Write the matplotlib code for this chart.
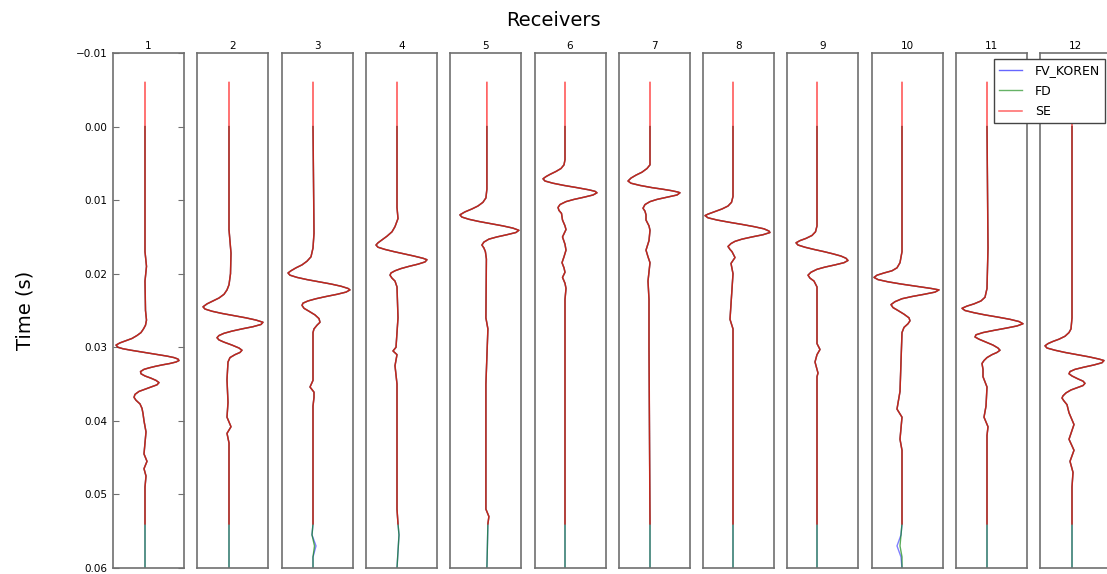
import matplotlib
matplotlib.use('Agg')
import matplotlib.pyplot as plt
import numpy as np

# trace samples: [time (s), amplitude (arbitrary units)]
r01 = np.array([
    [-0.006, 0], [0.0, 0], [0.017, 0], [0.019, 1.5], [0.021, 0], [0.025, 0.5], [0.0263, 1.5], [0.027, 0.5],
    [0.0275, -1.5], [0.028, -4], [0.0284, -8], [0.0288, -13], [0.0291, -19], [0.0294, -25], [0.0297, -29],
    [0.030, -27], [0.0302, -22], [0.0304, -14], [0.0306, -5], [0.0308, 4], [0.031, 13], [0.0312, 22],
    [0.0314, 29], [0.0316, 33], [0.0318, 34], [0.032, 31], [0.0322, 25], [0.0324, 17], [0.0326, 10],
    [0.0328, 4], [0.033, -1], [0.0333, -4.5], [0.0336, -4], [0.0339, 0], [0.0342, 6], [0.0345, 11],
    [0.0348, 14], [0.0351, 12], [0.0354, 6], [0.0357, 0], [0.036, -6], [0.0364, -10], [0.0368, -11],
    [0.0372, -9], [0.0377, -5], [0.0383, -3], [0.039, -2], [0.040, -1], [0.0415, 1], [0.043, 0],
    [0.0445, -1], [0.0455, 2], [0.0465, -1], [0.0475, 1], [0.049, 0], [0.054, 0], [0.06, 0]])

r02 = np.array([
    [-0.006, 0], [0.0, 0], [0.014, 0], [0.0172, 2], [0.020, 1.5], [0.0215, 0], [0.0222, -2], [0.0228, -5],
    [0.0233, -10], [0.0237, -16], [0.0241, -22], [0.0245, -26], [0.0248, -24], [0.0251, -17], [0.0254, -7],
    [0.0257, 5], [0.026, 17], [0.0263, 27], [0.0266, 34], [0.0269, 32], [0.0272, 24], [0.0275, 13],
    [0.0278, 3], [0.0281, -5], [0.0284, -10], [0.0287, -12], [0.029, -10], [0.0293, -5], [0.0297, 3],
    [0.0301, 10], [0.0304, 13], [0.0307, 11], [0.031, 6], [0.0314, 1], [0.032, -1], [0.0344, -2],
    [0.0375, -1], [0.0395, -2], [0.0408, 2], [0.0417, -2], [0.043, 0], [0.054, 0], [0.06, 0]])

r03 = np.array([
    [-0.006, 0], [0.0, 0], [0.0145, 1], [0.0165, 0], [0.0177, -2], [0.0183, -6], [0.0188, -11],
    [0.0192, -17], [0.0196, -22], [0.0199, -25], [0.0202, -23], [0.0205, -16], [0.0208, -6], [0.0211, 6],
    [0.0214, 18], [0.0217, 28], [0.022, 35], [0.0222, 37], [0.0225, 33], [0.0228, 24], [0.0231, 13],
    [0.0234, 3], [0.0237, -5], [0.024, -10], [0.0243, -11], [0.0247, -9], [0.0251, -4], [0.0256, 2],
    [0.0261, 6], [0.0266, 7], [0.027, 4], [0.0275, 1], [0.028, 0], [0.0345, 0], [0.0354, -3],
    [0.0361, 1], [0.0368, 1], [0.038, 0], [0.054, 0], [0.0555, -1], [0.057, 1.5], [0.0585, 0], [0.06, 0]])

r04 = np.array([
    [-0.006, 0], [0.0, 0], [0.011, 0], [0.0125, 1], [0.0136, -2], [0.0143, -5], [0.0149, -10], [0.0154, -15],
    [0.0158, -19], [0.0161, -21], [0.0164, -19], [0.0167, -12], [0.017, -3], [0.0173, 7], [0.0176, 17],
    [0.0179, 26], [0.0181, 30], [0.0184, 28], [0.0187, 21], [0.019, 12], [0.0193, 4], [0.0196, -2],
    [0.0199, -6], [0.0202, -7], [0.0206, -5], [0.021, -2], [0.0218, 0], [0.026, 1], [0.030, -1],
    [0.0305, -4], [0.031, 0], [0.0325, -2], [0.035, 0], [0.052, 0], [0.054, 1], [0.0555, 2], [0.06, 0]])

r05 = np.array([
    [-0.006, 0], [0.0, 0], [0.0085, 0], [0.0097, -1], [0.0103, -4], [0.0108, -9], [0.0112, -15],
    [0.0116, -22], [0.012, -27], [0.0123, -25], [0.0126, -18], [0.0129, -8], [0.0132, 4], [0.0135, 16],
    [0.0138, 26], [0.0141, 32], [0.0144, 29], [0.0147, 20], [0.015, 10], [0.0153, 2], [0.0157, -3],
    [0.0161, -5], [0.0165, -3], [0.017, -1.5], [0.018, -0.5], [0.026, -1], [0.0275, 1], [0.035, -1],
    [0.052, -1], [0.053, 2], [0.054, 1], [0.06, 0]])

r06 = np.array([
    [-0.006, 0], [0.0, 0], [0.0045, 0], [0.0052, -1], [0.0057, -4], [0.0061, -9], [0.0065, -15],
    [0.0068, -19], [0.0071, -22], [0.0074, -20], [0.0077, -12], [0.008, -1], [0.0083, 12], [0.0086, 24],
    [0.0088, 30], [0.009, 32], [0.0093, 28], [0.0096, 19], [0.0099, 9], [0.0102, 1], [0.0106, -5],
    [0.011, -7], [0.0114, -6], [0.0118, -3.5], [0.0127, -2.5], [0.0135, 0], [0.014, 1], [0.015, -2.5],
    [0.016, 0], [0.0168, 1], [0.0177, -1], [0.0185, -3], [0.0192, -1], [0.0198, 0], [0.0205, -2.5],
    [0.0213, 0], [0.022, 1], [0.0235, 0], [0.054, 0], [0.06, 0]])

r07 = np.array([
    [-0.006, 0], [0.0, 0], [0.0045, 0], [0.0052, 0], [0.0057, -3], [0.0062, -8], [0.0066, -14],
    [0.007, -19], [0.0074, -22], [0.0077, -19], [0.008, -10], [0.0083, 2], [0.0085, 12], [0.0087, 21],
    [0.0089, 28], [0.009, 30], [0.0093, 27], [0.0096, 17], [0.0099, 7], [0.0102, 0], [0.0106, -5],
    [0.0111, -7], [0.0115, -5], [0.012, -4], [0.0127, -4], [0.0135, -1], [0.0141, 0], [0.0155, -1],
    [0.0168, -4], [0.0177, -2], [0.0185, 0], [0.021, -2], [0.0235, -1], [0.030, -1], [0.054, 0], [0.06, 0]])

r08 = np.array([
    [-0.006, 0], [0.0, 0], [0.0095, 0], [0.0103, -1.5], [0.0108, -5], [0.0112, -11], [0.0116, -19],
    [0.0119, -25], [0.0121, -28], [0.0124, -25], [0.0127, -16], [0.013, -4], [0.0133, 9], [0.0136, 21],
    [0.0139, 31], [0.0142, 36], [0.0144, 37], [0.0147, 30], [0.015, 19], [0.0153, 9], [0.0156, 2],
    [0.0159, -2], [0.0163, -5], [0.0167, -3], [0.017, -1], [0.0178, 2], [0.0186, -2], [0.020, 0],
    [0.0262, -3], [0.0275, 0], [0.054, 0], [0.06, 0]])

r09 = np.array([
    [-0.006, 0], [0.0, 0], [0.0135, 0], [0.0143, -1.5], [0.0148, -5], [0.0152, -11], [0.0155, -17],
    [0.0158, -21], [0.0161, -19], [0.0164, -12], [0.0167, -3], [0.017, 7], [0.0173, 16], [0.0176, 24],
    [0.0179, 29], [0.0182, 31], [0.0185, 27], [0.0188, 18], [0.0191, 8], [0.0194, 0], [0.0198, -6],
    [0.0202, -9], [0.0206, -7], [0.021, -3], [0.0218, 0], [0.0295, 0], [0.0303, 3], [0.031, 0],
    [0.032, -2], [0.0335, 1], [0.034, 0], [0.054, 0], [0.06, 0]])

r10 = np.array([
    [-0.006, 0], [0.0, 0], [0.017, 0], [0.0185, -2], [0.0192, -5], [0.0196, -10], [0.0199, -18],
    [0.0202, -25], [0.0205, -28], [0.0208, -24], [0.0211, -14], [0.0214, -1], [0.0217, 14], [0.022, 29],
    [0.0222, 37], [0.0225, 33], [0.0228, 22], [0.0231, 10], [0.0234, 0], [0.0238, -7], [0.0242, -11],
    [0.0246, -9], [0.025, -4], [0.0255, 2], [0.026, 7], [0.0264, 8], [0.0268, 6], [0.0273, 2], [0.028, 0],
    [0.036, -2], [0.0384, -5], [0.0395, 0], [0.0425, -2], [0.044, 0], [0.054, 0], [0.0555, -1],
    [0.057, -2], [0.0585, 0], [0.06, 0]])

r11 = np.array([
    [-0.006, 0], [0.0, 0], [0.0165, 1], [0.022, 0], [0.0232, -2], [0.0237, -6], [0.0241, -13], [0.0244, -20],
    [0.0247, -25], [0.025, -22], [0.0253, -13], [0.0256, -2], [0.0259, 11], [0.0262, 23], [0.0265, 32],
    [0.0268, 36], [0.0271, 30], [0.0274, 19], [0.0277, 7], [0.028, -4], [0.0283, -11], [0.0286, -12],
    [0.0289, -8], [0.0293, -1], [0.0297, 6], [0.0301, 11], [0.0304, 13], [0.0307, 10], [0.031, 5],
    [0.0314, 0], [0.0318, -3], [0.0322, -5], [0.033, -4], [0.034, -4], [0.0354, 0], [0.038, -1],
    [0.0395, -3], [0.0408, 1], [0.042, 0], [0.054, 0], [0.06, 0]])

r12 = np.array([
    [-0.006, 0], [0.0, 0], [0.026, 0], [0.0275, -1], [0.028, -3], [0.0285, -7], [0.0289, -13], [0.0292, -19],
    [0.0295, -24], [0.0298, -27], [0.0301, -25], [0.0304, -17], [0.0307, -7], [0.031, 5], [0.0313, 17],
    [0.0316, 27], [0.0318, 32], [0.0321, 30], [0.0324, 22], [0.0327, 12], [0.033, 3], [0.0333, -2],
    [0.0336, -3], [0.0339, 0], [0.0343, 6], [0.0346, 11], [0.0349, 13], [0.0352, 11], [0.0355, 5],
    [0.0358, -1], [0.0362, -6], [0.0366, -9], [0.0369, -10], [0.0373, -8], [0.0378, -5], [0.0389, -3],
    [0.0405, 2], [0.0425, -3], [0.044, 2], [0.0455, -2], [0.047, 1], [0.049, 0], [0.054, 0], [0.06, 0]])

# where FV_KOREN departs from FD at the end of the record
fv_tail_t = [0.054, 0.0555, 0.057, 0.0585, 0.06]
fv_tail_r03 = [0, -1, 3, 0, 0]
fv_tail_r10 = [0, -1, -5, -1, 0]

se_end = 0.054  # SE record stops here
receivers = [str(i) for i in range(1, 13)]
labels = ['FV_KOREN', 'FD', 'SE']

traces = [r01, r02, r03, r04, r05, r06, r07, r08, r09, r10, r11, r12]
fv_tails = {2: fv_tail_r03, 9: fv_tail_r10}

# layout (pixels of the 1107x574 picture)
W, H = 1107, 574
base_off = [32, 31.7, 31.4, 31.1, 36.7, 30.5, 31.2, 29.9, 29.6, 30.3, 31, 31.7]
pw = 71
frame = '#707070'

fig = plt.figure(figsize=(W / 100, H / 100), dpi=100)
for i, tr in enumerate(traces):
    tt, aa = tr[:, 0], tr[:, 1]
    left = 113 + 84.3 * i
    ax = fig.add_axes([left / W, (H - 568) / H, pw / W, 515 / H])

    m = tt >= 0
    fv_t, fv_a = tt[m], aa[m]
    if i in fv_tails:
        k = fv_t < fv_tail_t[0]
        fv_t = np.concatenate([fv_t[k], fv_tail_t])
        fv_a = np.concatenate([fv_a[k], fv_tails[i]])
    se = tt <= se_end
    ax.plot(fv_a, fv_t, color='b', alpha=0.5, lw=1.0, label=labels[0])
    ax.plot(aa[m], tt[m], color='g', alpha=0.65, lw=1.0, label=labels[1])
    ax.plot(aa[se], tt[se], color='r', alpha=0.7, lw=1.1, label=labels[2])

    ax.set_xlim(-base_off[i], pw - base_off[i])
    ax.set_ylim(0.06, -0.01)
    ax.set_xticks([])
    ax.set_title(receivers[i], fontsize=7.5, pad=3)
    for s in ax.spines.values():
        s.set_color(frame)
        s.set_linewidth(1.2)
    if i == 0:
        ax.set_yticks(np.arange(-0.01, 0.061, 0.01))
        ax.tick_params(axis='y', direction='in', length=4, left=True, right=True,
                       labelsize=7.5, color=frame, pad=4)
        ax.set_ylabel('Time (s)', fontsize=14, labelpad=30)
    else:
        ax.set_yticks([])
    if i == 11:
        leg = ax.legend(loc='upper right', fontsize=9, fancybox=False, edgecolor='#444444',
                        framealpha=1, handlelength=1.9, handletextpad=1.0, labelspacing=0.6,
                        borderpad=0.4, borderaxespad=0.5)
        for h in leg.get_lines():
            h.set_alpha(0.6)

fig.text(0.5, 1 - 20 / H, 'Receivers', ha='center', va='center', fontsize=14)

plt.savefig('out.png', dpi=100)
